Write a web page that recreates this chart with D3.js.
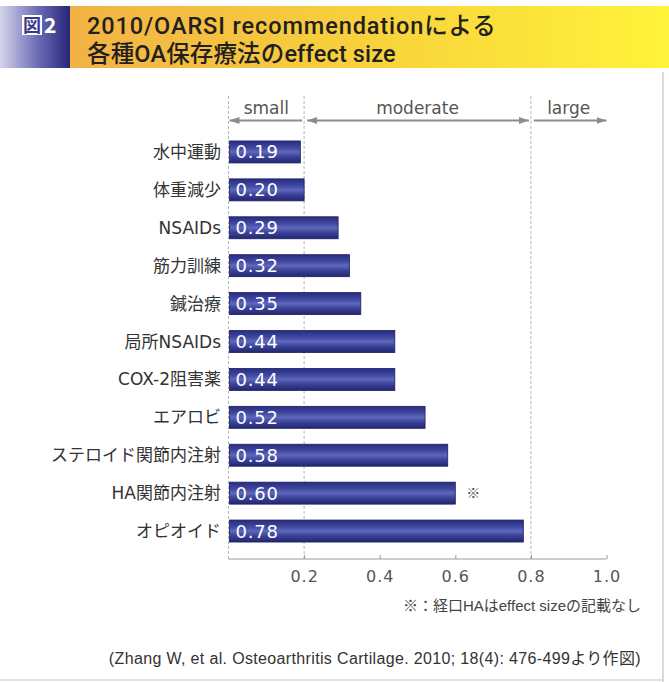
<!DOCTYPE html>
<html>
<head>
<meta charset="utf-8">
<script src="https://cdn.jsdelivr.net/npm/d3@7/dist/d3.min.js"></script>
<style>
  html, body { margin: 0; padding: 0; background: #fff; }
  svg { display: block; font-family: "Noto Sans CJK JP", "Noto Sans", sans-serif; }
</style>
</head>
<body>
<svg id="chart" width="669" height="682"></svg>
<script>
// Treatments and their effect sizes (OARSI 2010)
const categories = ["水中運動", "体重減少", "NSAIDs", "筋力訓練", "鍼治療", "局所NSAIDs",
  "COX-2阻害薬", "エアロビ", "ステロイド関節内注射", "HA関節内注射", "オピオイド"];
const effectSizes = [0.19, 0.20, 0.29, 0.32, 0.35, 0.44, 0.44, 0.52, 0.58, 0.60, 0.78];
const tickValues = [0.2, 0.4, 0.6, 0.8, 1.0];
const tickLabels = ["0.2", "0.4", "0.6", "0.8", "1.0"];
// effect-size bands shown above the plot
const bandNames = ["small", "moderate", "large"];
const bandStarts = [0, 0.2, 0.8];
const bandEnds = [0.2, 0.8, 1.0];
const markedCategory = "HA関節内注射";
const titleLines = ["2010/OARSI recommendationによる", "各種OA保存療法のeffect size"];

const wideSans = "'DejaVu Sans', 'Noto Sans CJK JP', sans-serif";
const noteSans = "'Liberation Sans', 'Noto Sans CJK JP', sans-serif";
const titleSans = "Roboto, 'Noto Sans CJK JP', sans-serif";

const svg = d3.select("#chart");
const defs = svg.append("defs");

// ---- title banner ----
const gLeft = defs.append("linearGradient").attr("id", "bannerLeft");
gLeft.append("stop").attr("offset", "0%").attr("stop-color", "#d4d4ec");
gLeft.append("stop").attr("offset", "55%").attr("stop-color", "#6a6ab4");
gLeft.append("stop").attr("offset", "100%").attr("stop-color", "#26267a");
const gRight = defs.append("linearGradient").attr("id", "bannerRight");
gRight.append("stop").attr("offset", "0%").attr("stop-color", "#f2b244");
gRight.append("stop").attr("offset", "50%").attr("stop-color", "#f8d23c");
gRight.append("stop").attr("offset", "100%").attr("stop-color", "#fff33a");

svg.append("rect").attr("x", 0).attr("y", 6).attr("width", 70).attr("height", 62)
  .attr("fill", "url(#bannerLeft)");
svg.append("rect").attr("x", 70).attr("y", 6).attr("width", 599).attr("height", 62)
  .attr("fill", "url(#bannerRight)");

// "図2" badge
svg.append("rect").attr("x", 22).attr("y", 15).attr("width", 20).attr("height", 20)
  .attr("fill", "#ffffff");
svg.append("text").attr("x", 32).attr("y", 32).attr("text-anchor", "middle")
  .attr("font-size", 18).attr("font-weight", 700).attr("fill", "#3a3a8a").text("図");
svg.append("text").attr("x", 44).attr("y", 33)
  .attr("font-size", 21).attr("font-weight", 700).attr("fill", "#ffffff").text("2");

// two-line title (the Latin-heavy first line gets a little extra tracking)
svg.append("g").selectAll("text").data(titleLines).join("text")
  .attr("x", 87).attr("y", (d, i) => 34 + i * 28)
  .attr("font-family", titleSans)
  .attr("font-size", 23.5).attr("font-weight", 500).attr("fill", "#231f20")
  .attr("letter-spacing", (d, i) => i === 0 ? 0.9 : 0.15)
  .text(d => d);

// ---- frame ----
svg.append("line").attr("x1", 663).attr("x2", 663).attr("y1", 72).attr("y2", 682)
  .attr("stroke", "#cfcfcf").attr("stroke-width", 1.5);
svg.append("line").attr("x1", 0).attr("x2", 663).attr("y1", 680).attr("y2", 680)
  .attr("stroke", "#d8d8d8").attr("stroke-width", 1.5);

// ---- scales ----
const x = d3.scaleLinear().domain([0, 1]).range([228.5, 606.5]);
const y = d3.scaleBand().domain(categories).range([133, 550])
  .paddingInner(0.42).paddingOuter(0.21);
const axisY = 559;

// dashed band boundaries
const guideVals = [0, 0.2, 0.8];
svg.append("g").selectAll("line").data(guideVals).join("line")
  .attr("x1", d => x(d)).attr("x2", d => x(d))
  .attr("y1", 96).attr("y2", axisY)
  .attr("stroke", "#b5b5b5").attr("stroke-width", 1)
  .attr("stroke-dasharray", "3,2");

// band arrows and labels
const mk = (id, orient) => {
  const m = defs.append("marker").attr("id", id)
    .attr("viewBox", "0 0 10 10").attr("refX", orient === "end" ? 10 : 0).attr("refY", 5)
    .attr("markerWidth", 10).attr("markerHeight", 10).attr("markerUnits", "userSpaceOnUse")
    .attr("orient", "auto");
  m.append("path").attr("d", orient === "end" ? "M0,1.5 L10,5 L0,8.5 Z" : "M10,1.5 L0,5 L10,8.5 Z")
    .attr("fill", "#8c8c8c");
};
mk("arrEnd", "end");
mk("arrStart", "start");

const bands = bandNames.map((n, i) => ({ name: n, s: bandStarts[i], e: bandEnds[i], i }));
const gBands = svg.append("g");
gBands.selectAll("line").data(bands).join("line")
  .attr("x1", d => x(d.s) + (d.i === 0 ? 1 : 3))
  .attr("x2", d => x(d.e) - (d.i === 2 ? 0 : 2))
  .attr("y1", 120.5).attr("y2", 120.5)
  .attr("stroke", "#8c8c8c").attr("stroke-width", 1.8)
  .attr("marker-start", d => d.i < 2 ? "url(#arrStart)" : null)
  .attr("marker-end", d => d.i > 0 ? "url(#arrEnd)" : null);
gBands.selectAll("text").data(bands).join("text")
  .attr("x", d => (x(d.s) + x(d.e)) / 2)
  .attr("y", 114)
  .attr("text-anchor", "middle")
  .attr("font-size", 17).attr("fill", "#555")
  .attr("font-family", wideSans)
  .text(d => d.name);

// ---- bars ----
const barGrad = defs.append("linearGradient").attr("id", "barGrad")
  .attr("x1", 0).attr("y1", 0).attr("x2", 0).attr("y2", 1);
[["0%", "#282c80"], ["30%", "#3f479f"], ["50%", "#5d68bb"], ["70%", "#3d459b"], ["100%", "#22266f"]]
  .forEach(([o, c]) => barGrad.append("stop").attr("offset", o).attr("stop-color", c));

const rows = categories.map((c, i) => ({ cat: c, val: effectSizes[i] }));

svg.append("g").selectAll("rect").data(rows).join("rect")
  .attr("x", x(0) + 1)
  .attr("y", d => y(d.cat))
  .attr("width", d => x(d.val) - x(0) - 1)
  .attr("height", y.bandwidth())
  .attr("fill", "url(#barGrad)")
  .attr("stroke", "#1c1f63").attr("stroke-width", 0.8);

const fmt = d3.format(".2f");
svg.append("g").selectAll("text").data(rows).join("text")
  .attr("x", x(0) + 7)
  .attr("y", d => y(d.cat) + y.bandwidth() / 2 + 6.5)
  .attr("font-size", 18).attr("fill", "#ffffff")
  .attr("font-family", wideSans).attr("letter-spacing", 0.8)
  .text(d => fmt(d.val));

// category labels
svg.append("g").selectAll("text").data(rows).join("text")
  .attr("x", 221)
  .attr("y", d => y(d.cat) + y.bandwidth() / 2 + 6)
  .attr("text-anchor", "end")
  .attr("font-size", 17).attr("fill", "#333")
  .attr("font-family", wideSans)
  .text(d => d.cat);

// note mark after HA bar
svg.append("text")
  .attr("x", x(effectSizes[categories.indexOf(markedCategory)]) + 18)
  .attr("y", y(markedCategory) + y.bandwidth() / 2 + 5)
  .attr("text-anchor", "middle")
  .attr("font-size", 14).attr("fill", "#444").text("※");

// ---- x axis ----
const xAxis = d3.axisBottom(x).tickValues(tickValues)
  .tickFormat((d, i) => tickLabels[i]).tickSizeInner(-4).tickSizeOuter(0).tickPadding(12);
const gx = svg.append("g").attr("transform", `translate(0,${axisY})`).call(xAxis);
gx.select(".domain").attr("stroke", "#9a9a9a").attr("stroke-width", 1.2)
  .attr("d", `M${x(0)},0H${x(1)}`);
gx.selectAll(".tick line").attr("stroke", "#9a9a9a");
gx.selectAll(".tick text").attr("fill", "#555").attr("font-size", 16)
  .attr("font-family", wideSans).attr("letter-spacing", 1);

// ---- notes ----
svg.append("text").attr("x", 641).attr("y", 611).attr("text-anchor", "end")
  .attr("font-size", 15).attr("fill", "#444").attr("font-family", noteSans)
  .text("※：経口HAはeffect sizeの記載なし");
svg.append("text").attr("x", 641).attr("y", 664).attr("text-anchor", "end")
  .attr("font-size", 16).attr("fill", "#333").attr("font-family", noteSans)
  .attr("letter-spacing", 0.35)
  .text("(Zhang W, et al. Osteoarthritis Cartilage. 2010; 18(4): 476-499より作図)");
</script>
</body>
</html>
